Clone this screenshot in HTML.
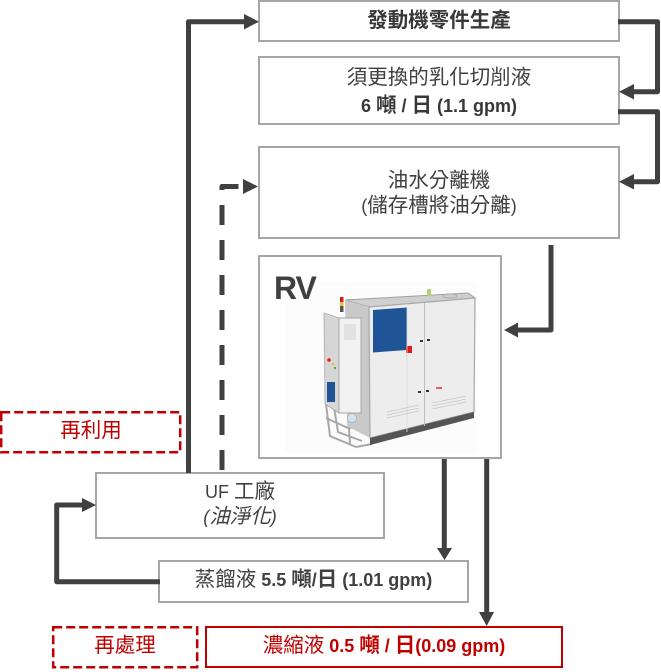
<!DOCTYPE html>
<html><head><meta charset="utf-8">
<style>
html,body{margin:0;padding:0;background:#fff;}
body{width:661px;height:672px;position:relative;overflow:hidden;font-family:"Liberation Sans","Noto Sans CJK TC","Noto Sans CJK SC",sans-serif;color:#404040;}
.b{position:absolute;box-sizing:border-box;border:2px solid #a6a6a6;background:#fff;}
.t{position:absolute;text-align:center;white-space:nowrap;line-height:24px;font-size:18px;}
.c{font-size:20.5px;}
.bd{font-weight:bold;}
svg{position:absolute;left:0;top:0;}
</style></head>
<body>
<div class="b" style="left:258px;top:0;width:362px;height:42px"></div>
<div class="b" style="left:258px;top:56px;width:362px;height:69px"></div>
<div class="b" style="left:258px;top:146px;width:362px;height:93px"></div>
<div class="b" style="left:258px;top:255px;width:244px;height:204px"></div>
<div class="b" style="left:95px;top:472px;width:290px;height:67px"></div>
<div class="b" style="left:158px;top:560px;width:311px;height:43px"></div>
<div class="b" style="left:205px;top:626px;width:358px;height:42px;border-color:#c00000"></div>

<svg width="661" height="672" viewBox="0 0 661 672">
  <!-- dashed red boxes -->
  <rect x="1.2" y="412.2" width="179" height="40" fill="none" stroke="#c00000" stroke-width="2.5" stroke-dasharray="9 4"/>
  <rect x="53.2" y="627.2" width="144" height="40" fill="none" stroke="#c00000" stroke-width="2.5" stroke-dasharray="9 4"/>

  <!-- connectors -->
  <g fill="none" stroke="#404040" stroke-width="5" stroke-linejoin="round">
    <path d="M188.5,473 V21.7 H245"/>
    <path d="M618,21.7 H657.5 V91.7 H633"/>
    <path d="M618,111.7 H657.5 V181.7 H633"/>
    <path d="M551,245 V330 H517"/>
    <path d="M222,470 V186.5 H240" stroke-dasharray="20 15"/>
    <path d="M444.3,459 V549"/>
    <path d="M486.7,459 V613"/>
    <path d="M160,581.7 H56.7 V505 H83"/>
  </g>
  <g fill="#404040">
    <polygon points="244,14 259,21.7 244,29.5"/>
    <polygon points="634,84 619,91.7 634,99.5"/>
    <polygon points="634,174 619,181.7 634,189.5"/>
    <polygon points="518,322.5 504,330 518,337.5"/>
    <polygon points="243,179 258,186.5 243,194"/>
    <polygon points="437,548 452,548 444.5,560"/>
    <polygon points="479,612 494,612 486.7,626"/>
    <polygon points="82,498 96,505 82,512"/>
  </g>

  <!-- RV machine -->
  <rect x="285" y="282" width="192" height="171" fill="#fcfcfc"/>
  <!-- base frame -->
  <g stroke="#a8a8a8" stroke-width="2" fill="none">
    <path d="M326,404 L330,436 L356,447 L372,444"/>
    <path d="M334,407 L338,432 L362,441"/>
    <path d="M326,418 L348,428 L370,425"/>
    <path d="M348,412 L350,444"/>
  </g>
  <!-- main cabinet -->
  <polygon points="345,300 468,293 475,298 369,307" fill="#cfcfcf" stroke="#a0a0a0" stroke-width="1"/>
  <polygon points="345,300 369,307 370,438 347,426" fill="#c9c9c9"/>
  <polygon points="369,307 475,298 474,412 370,438" fill="#ededed" stroke="#a8a8a8" stroke-width="1.2"/>
  <polygon points="370,438 474,412 474,418 370,445" fill="#555"/>
  <polygon points="373,310 407,307.5 407,350 373,352.5" fill="#1f5597"/>
  <rect x="406" y="346" width="6" height="7" fill="#e01b1b"/>
  <line x1="424.5" y1="303" x2="424.5" y2="426" stroke="#bcbcbc" stroke-width="1"/>
  <line x1="407" y1="308" x2="407" y2="432" stroke="#dcdcdc" stroke-width="0.8"/>
  <g fill="#333">
    <rect x="420" y="340" width="3" height="2"/>
    <rect x="427" y="339" width="3" height="2"/>
    <rect x="418" y="391" width="3" height="2"/>
    <rect x="426" y="390" width="3" height="2"/>
  </g>
  <g stroke="#c8c8c8" stroke-width="0.8">
    <line x1="387" y1="412" x2="419" y2="405"/>
    <line x1="387" y1="415" x2="419" y2="408"/>
    <line x1="387" y1="418" x2="419" y2="411"/>
    <line x1="432" y1="403" x2="466" y2="396"/>
    <line x1="432" y1="406" x2="466" y2="399"/>
    <line x1="432" y1="409" x2="466" y2="402"/>
  </g>
  <rect x="436" y="387" width="6" height="2" fill="#e06060"/>
  <rect x="427" y="289" width="4" height="7" fill="#b5cf7a"/>
  <ellipse cx="450" cy="296" rx="7" ry="2" fill="none" stroke="#b0b0b0" stroke-width="1"/>
  <!-- control cabinet -->
  <polygon points="324,313 339,318 339,413 325,404" fill="#d6d6d6" stroke="#a8a8a8" stroke-width="0.8"/>
  <rect x="339" y="318" width="22" height="95" fill="#f2f2f2" stroke="#a8a8a8" stroke-width="1"/>
  <rect x="344" y="324" width="12" height="16" fill="#e2e2e2"/>
  <rect x="327" y="382" width="8" height="20" fill="#1f5597"/>
  <circle cx="329" cy="360" r="1.8" fill="#e02020"/>
  <circle cx="333" cy="364" r="1.2" fill="#e0c020"/>
  <circle cx="335" cy="368" r="1.2" fill="#60a060"/>
  <rect x="340" y="297" width="3.5" height="5" fill="#d02020"/>
  <rect x="340" y="302" width="3.5" height="4" fill="#e0c030"/>
  <rect x="340" y="306" width="3.5" height="6" fill="#555"/>
  <circle cx="352" cy="418" r="4.5" fill="#cfe3f3" stroke="#a8a8a8" stroke-width="0.6"/>
</svg>

<div class="t bd" style="left:274px;top:272px;line-height:32px;font-size:32px;letter-spacing:-1px;color:#404040;text-align:left">RV</div>

<div class="t bd" style="left:258px;top:9px;width:362px;color:#383838"><span class="c">發動機零件生產</span></div>
<div class="t" style="left:258px;top:66px;width:362px"><span class="c">須更換的乳化切削液</span></div>
<div class="t bd" style="left:258px;top:94px;width:362px;color:#383838">6 <span class="c">噸</span> / <span class="c">日</span> (1.1 gpm)</div>
<div class="t" style="left:258px;top:169px;width:362px"><span class="c">油水分離機</span></div>
<div class="t" style="left:258px;top:194px;width:362px">(<span class="c">儲存槽將油分離</span>)</div>
<div class="t" style="left:95px;top:480px;width:290px">UF <span class="c">工廠</span></div>
<div class="t" style="left:95px;top:505px;width:290px;font-style:italic">(<span class="c">油淨化</span>)</div>
<div class="t" style="left:158px;top:568px;width:311px"><span class="c">蒸餾液</span> <b>5.5 <span class="c">噸</span>/<span class="c">日</span> (1.01 gpm)</b></div>
<div class="t" style="left:205px;top:634px;width:358px;color:#c00000"><span class="c">濃縮液</span> <b>0.5 <span class="c">噸</span> / <span class="c">日</span>(0.09 gpm)</b></div>
<div class="t" style="left:0;top:419px;width:182px;color:#c00000"><span class="c">再利用</span></div>
<div class="t" style="left:52px;top:634px;width:146px;color:#c00000"><span class="c">再處理</span></div>
</body></html>
